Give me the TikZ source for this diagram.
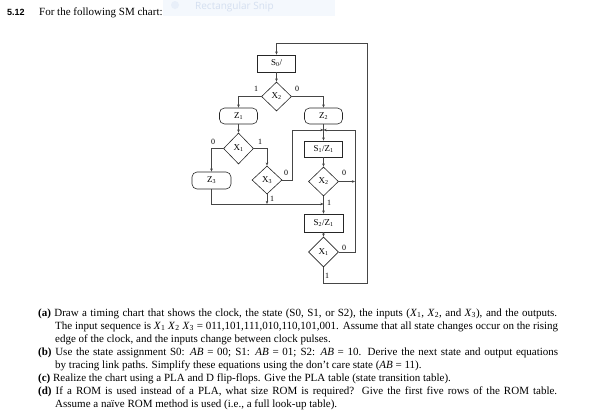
\documentclass[tikz,border=0pt]{standalone}
\usepackage{fontspec}
\setmainfont{Liberation Serif}
\newfontfamily\hdfont{Liberation Sans}
\newfontfamily\snipfont{Open Sans}
\usetikzlibrary{shapes.geometric,arrows.meta}
\newcommand\Xv[1]{\textit{X}\textsubscript{#1}}
\newcommand\ssub[2]{#1\textsubscript{#2}}
\definecolor{snipbg}{RGB}{244,248,253}
\definecolor{snipdot}{RGB}{232,239,249}
\definecolor{sniptx}{RGB}{212,223,240}
\definecolor{lncol}{RGB}{70,70,70}
\begin{document}
\begin{tikzpicture}[x=1pt,y=-1pt,
  ln/.style={draw=lncol,line width=0.55pt},
  arr/.style={ln,-{Stealth[length=3.2pt,width=2.6pt]}},
  sbox/.style={draw=black!85,line width=0.6pt,rectangle,inner sep=0pt,minimum width=38pt,minimum height=17pt,font=\fontsize{9}{10}\selectfont},
  cbox/.style={sbox,rounded corners=5pt},
  dia/.style={draw=black!85,line width=0.6pt,diamond,inner sep=0pt,minimum width=30pt,minimum height=29pt,font=\fontsize{9}{10}\selectfont},
  lab/.style={font=\fontsize{8}{9}\selectfont,inner sep=0pt},
  txt/.style={anchor=base west,inner sep=0pt,font=\fontsize{11}{13}\selectfont}]
\useasboundingbox (0,0) rectangle (604,416);
% snip overlay
\fill[snipbg] (163,0) rectangle (335,16);
\fill[snipdot] (175,5) circle (4);
\node[anchor=base west,inner sep=0pt,text=sniptx,font=\snipfont\fontsize{10}{12}\selectfont] (snip) at (195,9) {Rectangular Snip};
% title
\node[anchor=base west,inner sep=0pt,font=\hdfont\bfseries\fontsize{9}{11}\selectfont] (num) at (7,15) {5.12};
\node[anchor=base west,inner sep=0pt,font=\fontsize{11}{13}\selectfont] (ttl) at (39,15) {For the following SM chart:};
% chart nodes
\node[sbox] (s0) at (276.5,63.5) {\ssub{S}{0}/};
\node[dia] (d2) at (276.5,96.5) {\ssub{X}{2}};
\node[cbox,minimum height=16pt] (z1) at (238.5,116) {\ssub{Z}{1}};
\node[cbox,minimum height=16pt] (z2) at (323.5,116) {\ssub{Z}{2}};
\node[dia,minimum height=31pt] (dx1a) at (238.5,148.5) {\ssub{X}{1}};
\node[cbox,minimum width=39pt] (z3) at (211.5,180.5) {\ssub{Z}{3}};
\node[dia,minimum height=28pt] (dx3) at (267,180) {\ssub{X}{3}};
\node[sbox,minimum height=16pt] (s1z1) at (323.5,149) {\ssub{S}{1}/\ssub{Z}{1}};
\node[dia] (dx2b) at (323.5,181.5) {\ssub{X}{2}};
\node[sbox,minimum width=39pt,minimum height=18pt] (s2z1) at (323.5,223) {\ssub{S}{2}/\ssub{Z}{1}};
\node[dia,minimum height=30pt] (dx1b) at (323.5,252) {\ssub{X}{1}};
\coordinate (m1) at (323.5,130);
\coordinate (m2) at (323.5,204);
\coordinate (rl) at (355,130);
\coordinate (br) at (367,283);
\coordinate (tr) at (367,43);
% connectors
\draw[arr] (s0) -- (d2);
\draw[arr] (d2.west) -| (z1.north);
\draw[arr] (d2.east) -| (z2.north);
\draw[arr] (z1) -- (dx1a);
\draw[arr] (dx1a.west) -| (z3.north);
\draw[arr] (dx1a.east) -| (dx3.north);
\draw[arr] (z2) -- (s1z1);
\draw[arr] (dx3.east) -- ++(10,0) |- (m1);
\draw[arr] (dx1b.east) -| (rl) -- (m1);
\draw[arr] (dx2b.east) -- (dx2b.east -| rl);
\draw[arr] (s1z1) -- (dx2b);
\draw[arr] (dx2b) -- (s2z1);
\draw[arr] (z3.south) |- (m2);
\draw[arr] (dx3.south) -- (dx3.south |- m2);
\draw[arr] (s2z1) -- (dx1b);
\draw[arr] (dx1b.south) |- (br) -- (tr) -| (s0.north);
% branch labels
\node[lab] (l1) at (256,89) {1};
\node[lab] (l2) at (297,89) {0};
\node[lab] (l3) at (213,142) {0};
\node[lab] (l4) at (260,142) {1};
\node[lab] (l5) at (286,173) {0};
\node[lab] (l6) at (272,199) {1};
\node[lab] (l7) at (344,173) {0};
\node[lab] (l8) at (329,203) {1};
\node[lab] (l9) at (344,248) {0};
\node[lab] (l10) at (327,276) {1};
% problem text
\node[txt] (ta1) at (38,316) {\makebox[519pt][s]{\textbf{(a)} Draw a timing chart that shows the clock, the state (S0, S1, or S2), the inputs (\Xv{1}, \Xv{2}, and \Xv{3}), and the outputs.}};
\node[txt] (ta2) at (55,329) {\makebox[503pt][s]{The input sequence is \Xv{1} \Xv{2} \Xv{3} = 011,101,111,010,110,101,001. Assume that all state changes occur on the rising}};
\node[txt] (ta3) at (55,342) {edge of the clock, and the inputs change between clock pulses.};
\node[txt] (tb1) at (38,355) {\makebox[520pt][s]{\textbf{(b)} Use the state assignment S0: \textit{AB} = 00; S1: \textit{AB} = 01; S2: \textit{AB} = 10. Derive the next state and output equations}};
\node[txt] (tb2) at (55,368) {by tracing link paths. Simplify these equations using the don’t care state (\textit{AB} = 11).};
\node[txt] (tc1) at (38,381) {\textbf{(c)} Realize the chart using a PLA and D flip-flops. Give the PLA table (state transition table).};
\node[txt] (td1) at (38,394) {\makebox[519pt][s]{\textbf{(d)} If a ROM is used instead of a PLA, what size ROM is required? Give the first five rows of the ROM table.}};
\node[txt] (td2) at (55,407) {Assume a naïve ROM method is used (i.e., a full look-up table).};
\end{tikzpicture}
\end{document}
